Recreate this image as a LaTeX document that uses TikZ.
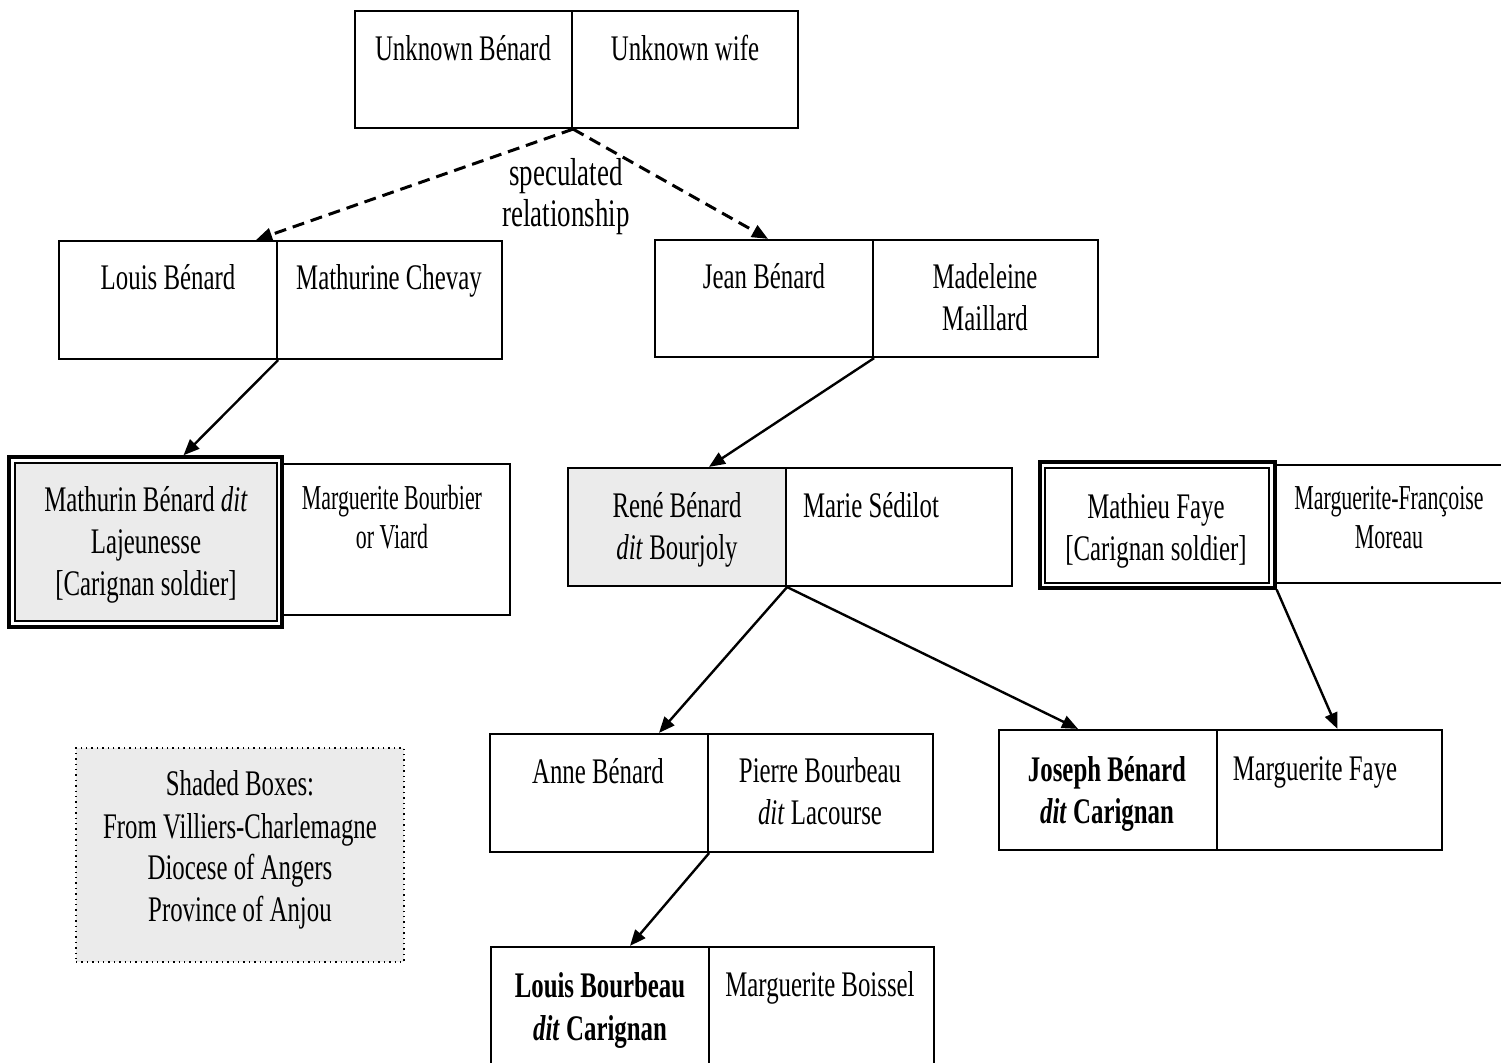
\documentclass[tikz,border=0pt]{standalone}
\usepackage{fontspec}
\setmainfont{Liberation Serif}[FakeStretch=0.69]
\newfontfamily\narrowserif{Liberation Serif}[FakeStretch=0.625]
\usetikzlibrary{fit,arrows.meta,calc}
\begin{document}
\begin{tikzpicture}[x=0.5pt,y=-0.5pt,
  half/.style={draw, line width=1.1pt, inner sep=0pt},
  outerbox/.style={draw, line width=1.7pt, inner sep=0pt},
  shadefill/.style={fill=black!8},
  txt/.style={anchor=base, align=center, inner sep=0pt, font=\fontsize{18}{21}\selectfont},
  smalltxt/.style={txt, font=\narrowserif\fontsize{17.5}{19.5}\selectfont},
  arr/.style={-{Triangle[length=8pt,width=6.5pt]}, line width=1.2pt},
  dasharr/.style={arr, line width=1.5pt, dash pattern=on 6pt off 3.5pt}]
\useasboundingbox (0,0) rectangle (1501,1063);
\fill[white] (0,0) rectangle (1501,1063);

% generation 0
\node[half, fit={(355,11) (572,128)}] (ubL) {};
\node[half, fit={(572,11) (798,128)}] (ubR) {};
\node[txt] (tubL) at (463,61) {Unknown Bénard};
\node[txt] (tubR) at (685,61) {Unknown wife};

% generation 1
\node[half, fit={(59,241) (277,359)}] (lbL) {};
\node[half, fit={(277,241) (502,359)}] (lbR) {};
\node[txt] (tlbL) at (168,290) {Louis Bénard};
\node[txt] (tlbR) at (389,290) {Mathurine Chevay};

\node[half, fit={(655,240) (873,357)}] (jbL) {};
\node[half, fit={(873,240) (1098,357)}] (jbR) {};
\node[txt] (tjbL) at (764,289) {Jean Bénard};
\node[txt] (tjbR) at (985,331) {Madeleine\\Maillard};

\node[txt, font=\fontsize{19.5}{20.5}\selectfont] (spec) at (566,227) {speculated\\relationship};

% generation 2
\node[outerbox, fit={(9,457) (282,627)}] (mbO) {};
\node[half, shadefill, fit={(15,463) (277,621)}] (mbL) {};
\node[half, fit={(282,464) (510,615)}] (mbR) {};
\node[txt] (tmbL) at (146,596) {Mathurin Bénard \textit{dit}\\Lajeunesse\\{[}Carignan soldier{]}};
\node[smalltxt] (tmbR) at (392,549) {Marguerite Bourbier\\or Viard};

\node[half, shadefill, fit={(568,468) (786,586)}] (rbL) {};
\node[half, fit={(786,468) (1012,586)}] (rbR) {};
\node[txt] (trbL) at (677,560) {René Bénard\\\textit{dit} Bourjoly};
\node[txt] (trbR) at (871,518) {Marie Sédilot};

\node[outerbox, fit={(1040,462) (1275,588)}] (mfO) {};
\node[half, fit={(1045,468) (1269,583)}] (mfL) {};
\node[half, fit={(1275,465) (1512,583)}] (mfR) {};
\node[txt] (tmfL) at (1156,561) {Mathieu Faye\\{[}Carignan soldier{]}};
\node[smalltxt] (tmfR) at (1389,549) {Marguerite-Françoise\\Moreau};

% generation 3
\node[half, fit={(490,734) (708,852)}] (anL) {};
\node[half, fit={(708,734) (933,852)}] (anR) {};
\node[txt] (tanL) at (598,784) {Anne Bénard};
\node[txt] (tanR) at (820,825) {Pierre Bourbeau\\\textit{dit} Lacourse};

\node[half, fit={(999,730) (1217,850)}] (joL) {};
\node[half, fit={(1217,730) (1442,850)}] (joR) {};
\node[txt, font=\fontsize{18}{21}\selectfont\bfseries] (tjoL) at (1107,824) {Joseph Bénard\\\textit{dit} Carignan};
\node[txt] (tjoR) at (1315,781) {Marguerite Faye};

% generation 4
\node[half, fit={(491,947) (709,1075)}] (lbbL) {};
\node[half, fit={(709,947) (934,1075)}] (lbbR) {};
\node[txt, font=\fontsize{18}{21}\selectfont\bfseries] (tlbbL) at (600,1040) {Louis Bourbeau\\\textit{dit} Carignan};
\node[txt] (tlbbR) at (820,997) {Marguerite Boissel};

% legend
\node[draw, dotted, line width=0.7pt, shadefill, inner sep=0pt, fit={(76,748) (404,962)}] (legend) {};
\node[txt] (tlegend) at (240,922) {Shaded Boxes:\\From Villiers-Charlemagne\\Diocese of Angers\\Province of Anjou};

% connectors
\draw[dasharr] (ubL.south east) -- ([xshift=-11pt]lbL.north east);
\draw[dasharr] (ubL.south east) -- ([xshift=2pt]jbL.north);
\draw[arr] (lbL.south east) -- ([xshift=19pt]mbO.north);
\draw[arr] (jbL.south east) -- ([xshift=16pt]rbL.north);
\draw[arr] (rbL.south east) -- ([xshift=30pt]anL.north);
\draw[arr] (rbL.south east) -- ([xshift=-15pt]joL.north);
\draw[arr] (mfO.south east) -- ([xshift=4pt]joR.north);
\draw[arr] (anL.south east) -- ([xshift=15pt]lbbL.north);
\end{tikzpicture}
\end{document}
